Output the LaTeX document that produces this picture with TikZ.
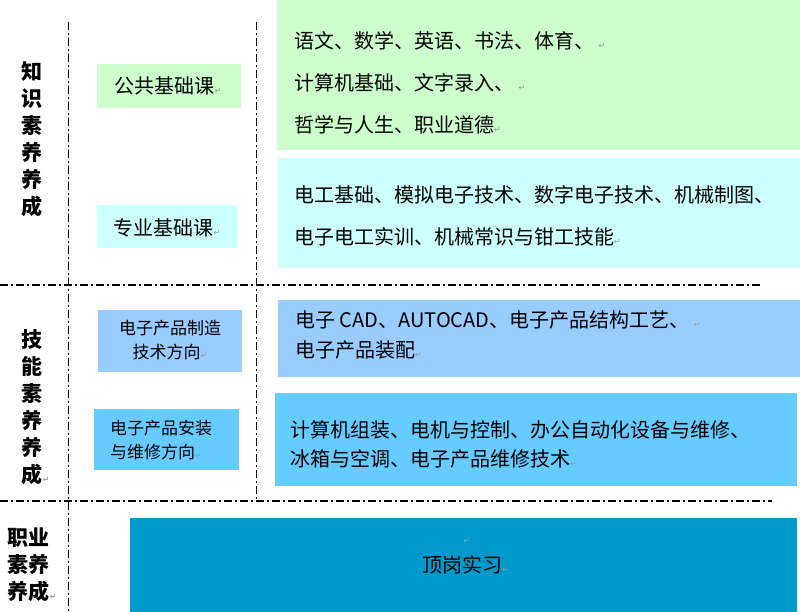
\documentclass[tikz,border=0pt]{standalone}
\usepackage{fontspec}
\setmainfont{Noto Sans CJK SC}
\newfontfamily\symfont{DejaVu Sans}
\usetikzlibrary{calc}
\definecolor{kgreen}{HTML}{CCFFCC}
\definecolor{kcyan}{HTML}{CCFFFF}
\definecolor{kblue}{HTML}{99CCFF}
\definecolor{ksky}{HTML}{66CCFF}
\definecolor{kteal}{HTML}{0099CC}
\def\ret{{\symfont\fontsize{8}{8}\selectfont\color{black!40}↵}}
\tikzset{
	sepline/.style={line width=1.4pt, dash pattern=on 8pt off 3pt on 2pt off 3pt},
	sidelabel/.style={font=\bfseries\fontsize{21}{27}\selectfont, align=center, inner sep=0pt},
	smallbox/.style={inner sep=0pt, font=\fontsize{17}{24}\selectfont},
	listtext/.style={anchor=west, align=left, inner sep=0pt, font=\fontsize{20}{42}\selectfont},
}

\begin{document}
\begin{tikzpicture}[x=1pt, y=-1pt]
	%%%%% START %%%%%
	\useasboundingbox (0,0) rectangle (800,612);

	\fill[kgreen] (277,0) rectangle (800,150);
	\fill[kcyan] (278,158) rectangle (800,268);
	\fill[kblue] (278,300) rectangle (800,377);
	\fill[ksky] (275,393) rectangle (797,486);
	\fill[kteal] (130,518) rectangle (797,612);

	\fill[kgreen] (97,64) rectangle (241,108);
	\fill[kcyan] (97,205) rectangle (238,248);
	\fill[kblue] (98,310) rectangle (242,372);
	\fill[ksky] (94,409) rectangle (239,470);

	\node[sidelabel] (zhishi) at (32,139) {知\\识\\素\\养\\养\\成};
	\node[sidelabel] (jineng) at (32,407) {技\\能\\素\\养\\养\\成\rlap{\ret}};
	\node[sidelabel] (zhiye) at (29,565) {职业\\素养\\养成\rlap{\ret}};

	\node[smallbox, font=\fontsize{20}{24}\selectfont] (gonggong) at (168,86) {公共基础课\ret};
	\node[smallbox, font=\fontsize{20}{24}\selectfont] (zhuanye) at (167,228) {专业基础课\ret};
	\node[smallbox, align=center] (zhizao) at (170,340) {电子产品制造\\技术方向\ret};
	\node[smallbox, align=left, anchor=west] (anzhuang) at (110,440) {电子产品安装\\与维修方向\ret};

	\node[listtext] (gonggonglist) at (294,83) {语文、数学、英语、书法、体育、 \ret\\计算机基础、文字录入、 \ret\\哲学与人生、职业道德\ret};
	\node[listtext] (zhuanyelist) at (294,216) {电工基础、模拟电子技术、数字电子技术、机械制图、\\电子电工实训、机械常识与钳工技能\ret};
	\node[listtext, font=\fontsize{20}{30}\selectfont] (zhizaolist) at (295,335) {电子 CAD、AUTOCAD、电子产品结构工艺、 \ret\\电子产品装配\ret};
	\node[listtext, font=\fontsize{20}{29}\selectfont] (anzhuanglist) at (290,444) {计算机组装、电机与控制、办公自动化设备与维修、\\冰箱与空调、电子产品维修技术\ret};

	\node[inner sep=0pt] (kong) at (467,541) {\ret};
	\node[listtext] (dinggang) at (422,565) {顶岗实习\ret};

	\draw[sepline, line width=0.9pt] (68,22) -- (68,612);
	\draw[sepline, line width=0.9pt] (256,22) -- (256,500);
	\draw[sepline] (0,285) -- (760,285);
	\draw[sepline] (0,501) -- (772,501);

	%%%%% END %%%%%
\end{tikzpicture}
\end{document}
